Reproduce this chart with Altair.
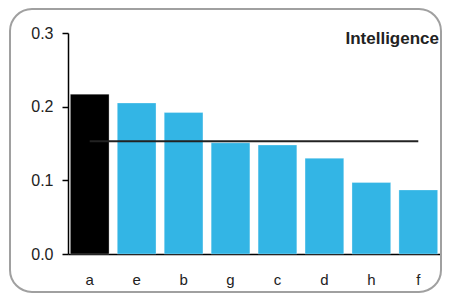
import altair as alt
import pandas as pd

categories = ["a", "e", "b", "g", "c", "d", "h", "f"]
values = [0.217, 0.205, 0.192, 0.151, 0.148, 0.130, 0.097, 0.087]
bar_colors = ["#000000", "#33b5e5", "#33b5e5", "#33b5e5", "#33b5e5", "#33b5e5", "#33b5e5", "#33b5e5"]
ref_value = 0.153
ref_from, ref_to = "a", "f"
y_ticks = [0.0, 0.1, 0.2, 0.3]
title_text = "Intelligence"

df = pd.DataFrame({"cat": categories, "val": values, "col": bar_colors})
ref_df = pd.DataFrame({"x1": [ref_from], "x2": [ref_to], "y": [ref_value]})
frame_df = pd.DataFrame({"k": [1]})
title_df = pd.DataFrame({"t": [title_text]})

W, H = 372, 221
FONT = "Liberation Sans"

xscale = alt.Scale(domain=categories, paddingInner=0.175, paddingOuter=0.05)
yscale = alt.Scale(domain=[0, 0.3], nice=False)

frame = alt.Chart(frame_df).mark_rect(
    filled=False, stroke="#a0a0a0", strokeWidth=2, cornerRadius=22
).encode(
    x=alt.value(-58), x2=alt.value(W + 1), y=alt.value(-24), y2=alt.value(H + 38)
)

bars = alt.Chart(df).mark_bar(stroke="#ffffff", strokeWidth=0.6, strokeOpacity=0.5).encode(
    x=alt.X("cat:N", scale=xscale, sort=categories,
            axis=alt.Axis(title=None, labelAngle=0, ticks=False, labelPadding=18,
                          labelFont=FONT, labelFontSize=15, labelColor="#222222",
                          domainColor="#000000", domainWidth=1.5)),
    y=alt.Y("val:Q", scale=yscale,
            axis=alt.Axis(title=None, values=y_ticks, format=".1f", grid=False,
                          tickSize=6, tickColor="#000000", tickWidth=1.5,
                          labelPadding=9, labelFont=FONT, labelFontSize=16,
                          labelColor="#222222", domainColor="#000000", domainWidth=1.5)),
    color=alt.Color("col:N", scale=None),
)

rule = alt.Chart(ref_df).mark_rule(color="#222222", strokeWidth=2).encode(
    x=alt.X("x1:N", scale=xscale),
    x2="x2:N",
    y=alt.Y("y:Q", scale=yscale),
)

title = alt.Chart(title_df).mark_text(
    align="right", baseline="alphabetic", font=FONT, fontSize=17,
    fontWeight="bold", color="#222222"
).encode(
    text="t:N", x=alt.value(W - 1), y=alt.value(11)
)

chart = alt.layer(frame, bars, rule, title).properties(
    width=W, height=H,
    autosize=alt.AutoSizeParams(type="none"),
    padding={"left": 60, "top": 25, "right": 2, "bottom": 39},
).configure_view(stroke=None)

chart.save("out.html", embed_options={"renderer": "svg", "actions": False})
